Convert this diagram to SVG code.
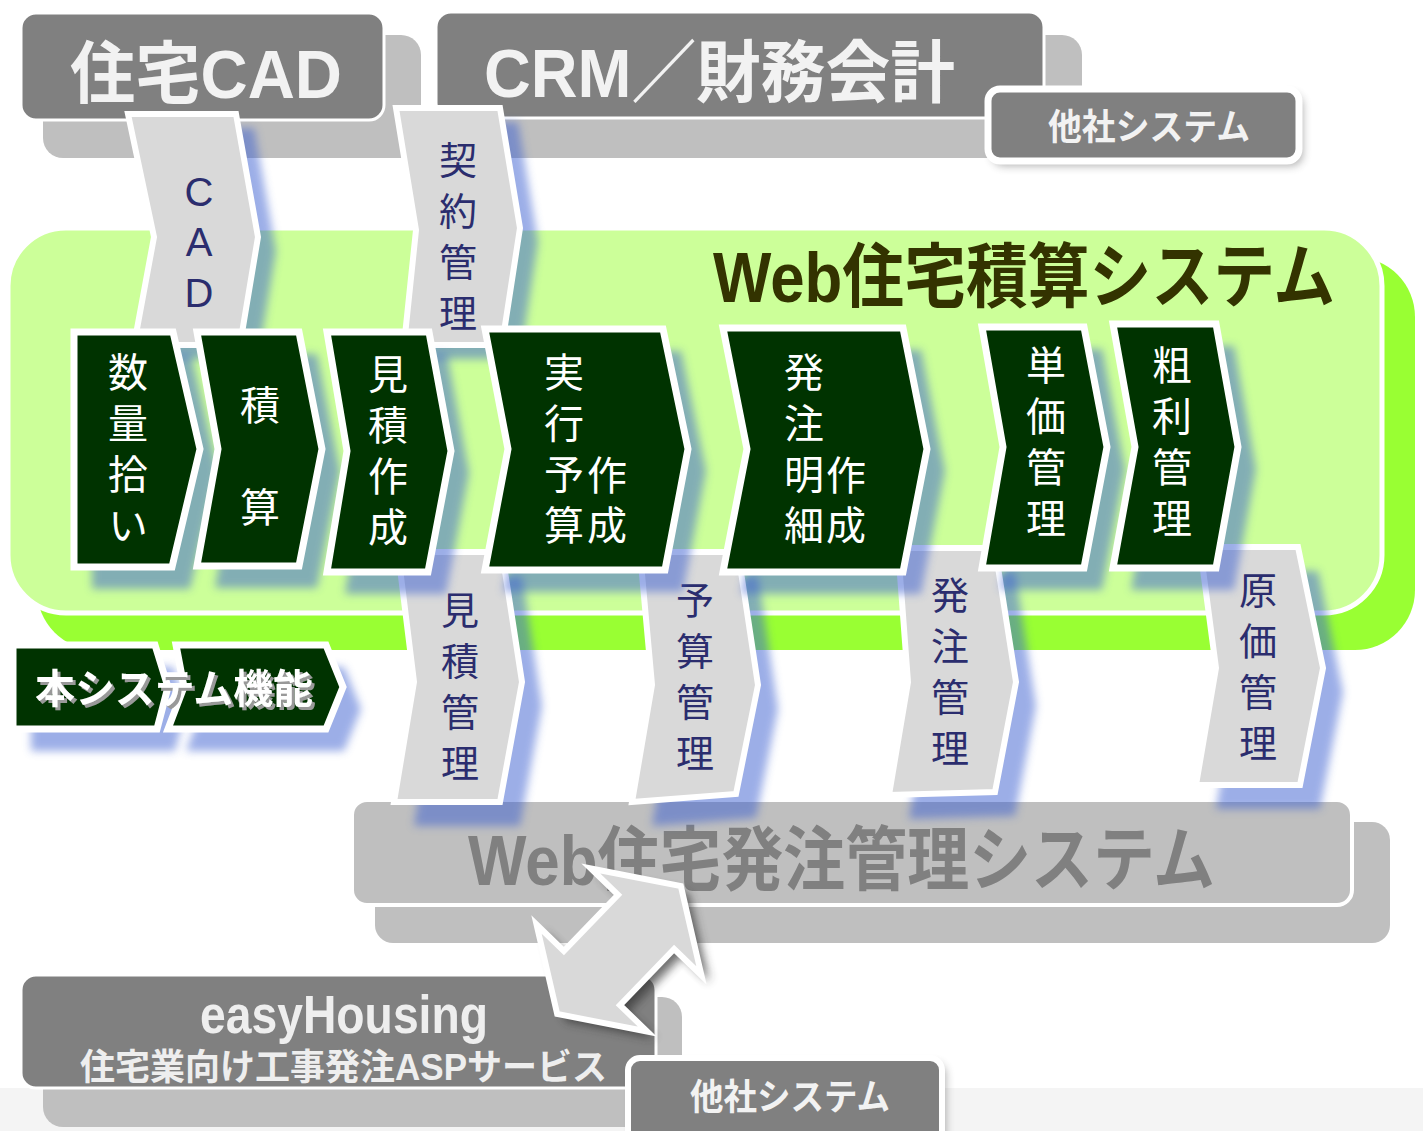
<svg xmlns="http://www.w3.org/2000/svg" width="1423" height="1131" viewBox="0 0 1423 1131">
<defs>
<filter id="blur" x="-30%" y="-30%" width="160%" height="160%"><feGaussianBlur stdDeviation="4"/></filter>
<filter id="blur2" x="-30%" y="-30%" width="160%" height="160%"><feGaussianBlur stdDeviation="5"/></filter>
<filter id="tsh" x="-10%" y="-20%" width="120%" height="150%"><feOffset in="SourceAlpha" dx="3" dy="3" result="o"/><feFlood flood-color="#999999"/><feComposite in2="o" operator="in" result="s"/><feMerge><feMergeNode in="s"/><feMergeNode in="SourceGraphic"/></feMerge></filter>
<style>
.gbox{fill:#808080;stroke:#fff;stroke-width:3}
.lbox{fill:#bfbfbf}
.chev{fill:#003300;stroke:#fff;stroke-width:7;stroke-linejoin:miter}
.garr{fill:#d9d9d9;stroke:#fff;stroke-width:6;stroke-linejoin:miter}
.bsh{fill:#3a5fd0;opacity:.5;filter:url(#blur)}
.gsh{fill:#555;opacity:.45;filter:url(#blur)}
.wt{font-family:"Noto Sans CJK JP",sans-serif;font-size:40px;fill:#fff;writing-mode:vertical-rl;letter-spacing:11px}
.nt{font-family:"Noto Sans CJK JP",sans-serif;font-size:38px;fill:#2b2d6e;writing-mode:vertical-rl;letter-spacing:13px}
.lt{font-family:"Liberation Sans",sans-serif;font-size:40px;fill:#2b2d6e;text-anchor:middle}
.bt{font-family:"Liberation Sans","Noto Sans CJK JP",sans-serif;font-weight:bold}
</style>
</defs>

<rect x="0" y="1088" width="1423" height="43" fill="#f4f4f4"/>

<g id="node-jutaku-cad">
<rect class="lbox" x="43" y="35" width="378" height="123" rx="20"/>
<rect class="gbox" x="21" y="13" width="363" height="107" rx="15"/>
<text class="bt" x="70" y="98" font-size="68" fill="#f2f2f2" textLength="272" lengthAdjust="spacingAndGlyphs">住宅CAD</text>
</g>

<g id="node-crm">
<rect class="lbox" x="458" y="35" width="624" height="123" rx="20"/>
<rect class="gbox" x="436" y="12" width="608" height="106" rx="15"/>
<text class="bt" x="484" y="97" font-size="68" fill="#f2f2f2" textLength="471" lengthAdjust="spacingAndGlyphs">CRM／財務会計</text>
</g>

<g id="node-tasha-top">
<rect class="gsh" x="992" y="94" width="311" height="72" rx="12"/>
<rect x="988" y="89" width="311" height="72" rx="12" fill="#808080" stroke="#fff" stroke-width="7"/>
<text class="bt" x="1149" y="140" font-size="36" fill="#f2f2f2" text-anchor="middle" textLength="202" lengthAdjust="spacingAndGlyphs">他社システム</text>
</g>

<g id="node-web-sekisan">
<rect x="37" y="257" width="1378" height="393" rx="60" fill="#99ff33"/>
<rect x="8" y="228" width="1374" height="385" rx="58" fill="#ccff99" stroke="#fff" stroke-width="5"/>
<text class="bt" x="713" y="302" font-size="70" fill="#333300" textLength="622" lengthAdjust="spacingAndGlyphs">Web住宅積算システム</text>
</g>

<g id="node-web-hatchu">
<rect class="lbox" x="375" y="822" width="1015" height="121" rx="18"/>
<rect x="352" y="800" width="1000" height="105" rx="15" fill="#bfbfbf" stroke="#fff" stroke-width="4"/>
<text class="bt" x="468" y="885" font-size="70" fill="#808080" textLength="747" lengthAdjust="spacingAndGlyphs">Web住宅発注管理システム</text>
</g>

<g id="node-easyhousing">
<rect class="lbox" x="43" y="997" width="639" height="130" rx="20"/>
<rect class="gbox" x="21" y="975" width="635" height="113" rx="15"/>
<text class="bt" x="200" y="1033" font-size="54" fill="#eeeeee" textLength="288" lengthAdjust="spacingAndGlyphs">easyHousing</text>
<text class="bt" x="80" y="1080" font-size="36" fill="#eeeeee" textLength="527" lengthAdjust="spacingAndGlyphs">住宅業向け工事発注ASPサービス</text>
</g>

<g id="node-tasha-bottom">
<rect class="gsh" x="632" y="1063" width="314" height="90" rx="12"/>
<rect x="628" y="1058" width="314" height="90" rx="12" fill="#808080" stroke="#fff" stroke-width="6"/>
<text class="bt" x="790" y="1110" font-size="36" fill="#f2f2f2" text-anchor="middle" textLength="200" lengthAdjust="spacingAndGlyphs">他社システム</text>
</g>

<!-- gray labelled arrows -->
<g id="node-cad-arrow">
<polygon class="bsh" transform="translate(18,14)" points="128,114 236,114 258,237 240,345 134,345 154,237"/>
<polygon class="garr" points="128,114 236,114 258,237 240,345 134,345 154,237"/>
<text class="lt"><tspan x="199" y="206">C</tspan><tspan x="199" y="256">A</tspan><tspan x="199" y="307">D</tspan></text>
</g>

<g id="node-keiyaku">
<polygon class="bsh" transform="translate(18,14)" points="396,108 500,108 520,228 502,345 404,345 416,230"/>
<polygon class="garr" points="396,108 500,108 520,228 502,345 404,345 416,230"/>
<text class="nt" x="458" y="141">契約管理</text>
</g>

<g id="node-mitsumori-kanri">
<polygon class="bsh" transform="translate(20,24)" points="398,552 502,552 522,682 500,802 394,802 414,682"/>
<polygon class="garr" points="398,552 502,552 522,682 500,802 394,802 414,682"/>
<text class="nt" x="460" y="591">見積管理</text>
</g>

<g id="node-yosan-kanri">
<polygon class="bsh" transform="translate(20,24)" points="640,552 738,552 758,685 736,794 632,802 652,685"/>
<polygon class="garr" points="640,552 738,552 758,685 736,794 632,802 652,685"/>
<text class="nt" x="695" y="581">予算管理</text>
</g>

<g id="node-hatchu-kanri">
<polygon class="bsh" transform="translate(20,24)" points="898,548 995,548 1016,682 995,792 889,795 908,682"/>
<polygon class="garr" points="898,548 995,548 1016,682 995,792 889,795 908,682"/>
<text class="nt" x="950" y="576">発注管理</text>
</g>

<g id="node-genka-kanri">
<polygon class="bsh" transform="translate(20,24)" points="1200,547 1298,547 1323,668 1300,785 1196,785 1216,668"/>
<polygon class="garr" points="1200,547 1298,547 1323,668 1300,785 1196,785 1216,668"/>
<text class="nt" x="1258" y="571">原価管理</text>
</g>

<!-- dark green process chevrons -->
<g id="chevron-shadows">
<polygon class="bsh" transform="translate(18,22)" points="74,332 173,332 200,449 172,567 74,567"/>
<polygon class="bsh" transform="translate(18,22)" points="197,332 299,332 322,449 299,566 197,566 218,449"/>
<polygon class="bsh" transform="translate(18,22)" points="327,332 429,332 451,451 428,572 327,572 347,451"/>
<polygon class="bsh" transform="translate(18,22)" points="485,329 663,329 688,449 665,570 485,570 508,449"/>
<polygon class="bsh" transform="translate(18,22)" points="723,328 903,328 927,449 903,572 723,572 747,449"/>
<polygon class="bsh" transform="translate(18,22)" points="982,327 1084,327 1107,447 1084,568 982,568 1003,447"/>
<polygon class="bsh" transform="translate(18,22)" points="1113,324 1216,324 1238,447 1216,568 1113,568 1135,447"/>
</g>

<g id="node-suryo">
<polygon class="chev" points="74,332 173,332 200,449 172,567 74,567"/>
<text class="wt" x="128" y="352">数量拾い</text>
</g>
<g id="node-sekisan">
<polygon class="chev" points="197,332 299,332 322,449 299,566 197,566 218,449"/>
<text class="wt" x="260" y="385" style="letter-spacing:62px">積算</text>
</g>
<g id="node-mitsumori">
<polygon class="chev" points="327,332 429,332 451,451 428,572 327,572 347,451"/>
<text class="wt" x="388" y="354">見積作成</text>
</g>
<g id="node-jikko">
<polygon class="chev" points="485,329 663,329 688,449 665,570 485,570 508,449"/>
<text class="wt" x="564" y="352">実行予算</text>
<text class="wt" x="607" y="455" style="letter-spacing:10px">作成</text>
</g>
<g id="node-hatchu-meisai">
<polygon class="chev" points="723,328 903,328 927,449 903,572 723,572 747,449"/>
<text class="wt" x="804" y="352">発注明細</text>
<text class="wt" x="846" y="455" style="letter-spacing:10px">作成</text>
</g>
<g id="node-tanka">
<polygon class="chev" points="982,327 1084,327 1107,447 1084,568 982,568 1003,447"/>
<text class="wt" x="1046" y="345">単価管理</text>
</g>
<g id="node-arari">
<polygon class="chev" points="1113,324 1216,324 1238,447 1216,568 1113,568 1135,447"/>
<text class="wt" x="1172" y="345">粗利管理</text>
</g>

<g id="node-legend">
<polygon class="bsh" transform="translate(18,22)" points="13,645 155,645 168,687 157,729 13,729"/>
<polygon class="bsh" transform="translate(18,22)" points="176,645 326,645 343,687 326,729 168,729 184,687"/>
<polygon class="chev" points="13,645 155,645 168,687 157,729 13,729"/>
<polygon class="chev" points="176,645 326,645 343,687 326,729 168,729 184,687"/>
<text class="bt" x="35" y="703" font-size="40" fill="#fff" filter="url(#tsh)" textLength="278" lengthAdjust="spacingAndGlyphs">本システム機能</text>
</g>

<g id="connectors">
<g transform="translate(627,957) rotate(-46)">
<polygon points="89,0 39,77 39,39 -39,39 -39,77 -89,0 -39,-77 -39,-39 39,-39 39,-77" fill="#333" opacity=".7" filter="url(#blur2)"/>
</g>
<g transform="translate(619,950) rotate(-46)">
<polygon points="89,0 39,77 39,39 -39,39 -39,77 -89,0 -39,-77 -39,-39 39,-39 39,-77" fill="#d9d9d9" stroke="#fff" stroke-width="6" stroke-linejoin="miter"/>
</g>
</g>
</svg>
